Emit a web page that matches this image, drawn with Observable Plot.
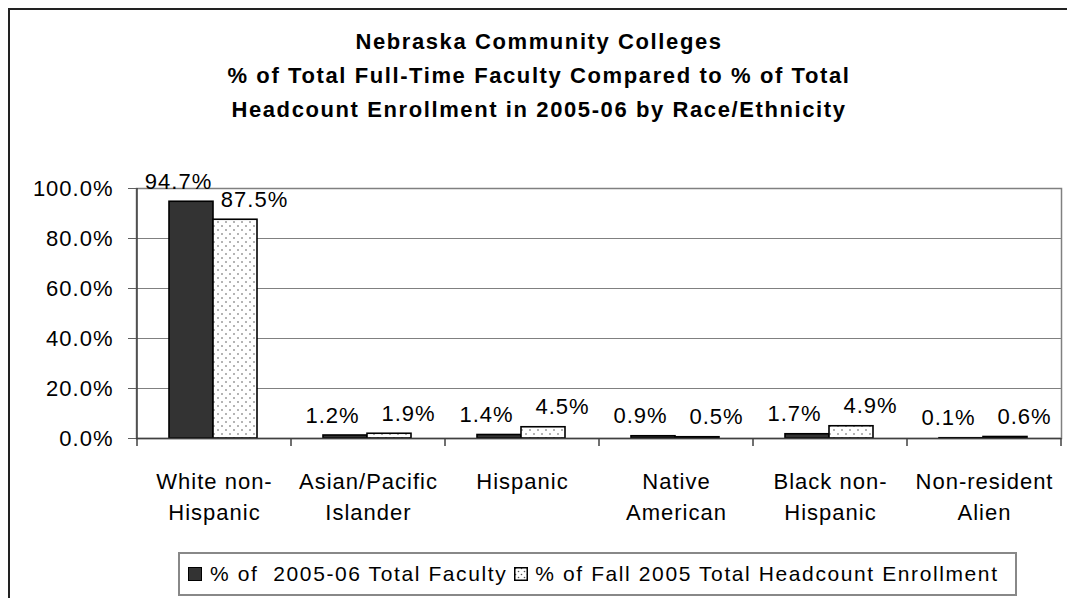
<!DOCTYPE html>
<html>
<head>
<meta charset="utf-8">
<script src="https://cdn.jsdelivr.net/npm/d3@7"></script>
<script src="https://cdn.jsdelivr.net/npm/@observablehq/plot@0.6"></script>
<style>
  html, body { margin: 0; padding: 0; background: #fff; }
  body { width: 1067px; height: 598px; overflow: hidden; position: relative; font-family: "Liberation Sans", Arial, sans-serif; }
  #border { position: absolute; left: 8px; top: 8px; width: 1100px; height: 700px; border-left: 2px solid #222; border-top: 2px solid #222; box-sizing: border-box; }
  #title { position: absolute; left: 8px; width: 1062px; top: 25px; text-align: center; font-weight: bold; font-size: 22px; line-height: 34px; letter-spacing: 1.6px; color: #000; }
  #chart { position: absolute; left: 0; top: 140px; }
  #legend { position: absolute; left: 178px; top: 552px; width: 839px; height: 44px; box-sizing: border-box; border: 2px solid #888; display: flex; align-items: center; padding-left: 8px; font-size: 21px; letter-spacing: 1.6px; color: #000; }
  #legend .sw { width: 14px; height: 14px; box-sizing: border-box; border: 1.5px solid #000; display: inline-block; }
  #legend span.t { white-space: pre; }
</style>
</head>
<body>
<div id="border"></div>
<div id="title"></div>
<div id="chart"></div>
<div id="legend"></div>
<script>
const titleLines = [
  "Nebraska Community Colleges",
  "% of Total Full-Time Faculty Compared to % of Total",
  "Headcount Enrollment in 2005-06 by Race/Ethnicity"
];
const categories = ["White non-Hispanic", "Asian/Pacific Islander", "Hispanic", "Native American", "Black non-Hispanic", "Non-resident Alien"];
const tickLabels = ["White non-\nHispanic", "Asian/Pacific\nIslander", "Hispanic", "Native\nAmerican", "Black non-\nHispanic", "Non-resident\nAlien"];
const seriesNames = ["% of  2005-06 Total Faculty", "% of Fall 2005 Total Headcount Enrollment"];
const faculty = [94.7, 1.2, 1.4, 0.9, 1.7, 0.1];
const enrollment = [87.5, 1.9, 4.5, 0.5, 4.9, 0.6];
const yTicks = [0, 20, 40, 60, 80, 100];
const gridTicks = [20, 40, 60, 80];

document.getElementById("title").innerHTML = titleLines.map(s => `<div>${s}</div>`).join("");

const rows = [];
categories.forEach((c, i) => {
  rows.push({category: c, series: seriesNames[0], value: faculty[i]});
  rows.push({category: c, series: seriesNames[1], value: enrollment[i]});
});
const s1 = rows.filter(d => d.series === seriesNames[0]);
const s2 = rows.filter(d => d.series === seriesNames[1]);

const font = "'Liberation Sans', Arial, sans-serif";

const plot = Plot.plot({
  width: 1067,
  height: 388,
  marginLeft: 136,
  marginRight: 6,
  marginTop: 48,
  marginBottom: 90,
  style: {fontFamily: font, fontSize: "22px", letterSpacing: "1px", background: "transparent", color: "#000"},
  x: {domain: categories, padding: 0, label: null},
  y: {domain: [0, 100], label: null},
  marks: [
    Plot.gridY(gridTicks, {stroke: "#808080", strokeOpacity: 1, strokeWidth: 1.2}),
    Plot.frame({stroke: "#808080", strokeWidth: 1.5}),
    Plot.barY(s1, {x: "category", y: "value", fill: "#333333", stroke: "#000", strokeWidth: 1.6, insetLeft: 32, insetRight: 78}),
    Plot.barY(s2, {x: "category", y: "value", fill: "url(#dots)", stroke: "#000", strokeWidth: 1.6, insetLeft: 76, insetRight: 34}),
    Plot.ruleY([0], {stroke: "#404040", strokeWidth: 1.5}),
    Plot.text(s1, {x: "category", y: "value", text: d => d.value.toFixed(1) + "%", dx: -36, dy: -13, lineAnchor: "bottom", fontSize: 22, fill: "#000"}),
    Plot.text(s2, {x: "category", y: "value", text: d => d.value.toFixed(1) + "%", dx: 40, dy: -13, lineAnchor: "bottom", fontSize: 22, fill: "#000"}),
    Plot.axisY({ticks: yTicks, tickFormat: d => d.toFixed(1) + "%", tickSize: 8, tickPadding: 15, stroke: "#606060", fontSize: 22, label: null}),
    Plot.axisX({tickSize: 0, tickPadding: 28, tickFormat: d => tickLabels[categories.indexOf(d)], fontSize: 22, lineHeight: 1.41, label: null})
  ]
});

const svg = d3.select(plot);
const defs = svg.insert("defs", ":first-child");
const pat = defs.append("pattern").attr("id", "dots").attr("patternUnits", "userSpaceOnUse").attr("width", 8).attr("height", 8);
pat.append("rect").attr("width", 8).attr("height", 8).attr("fill", "#fff");
pat.append("circle").attr("cx", 2).attr("cy", 2).attr("r", 0.8).attr("fill", "#555");
pat.append("circle").attr("cx", 6).attr("cy", 6).attr("r", 0.8).attr("fill", "#555");

// left axis line and category boundary ticks, from the plot's own scales
const sx = plot.scale("x");
const sy = plot.scale("y");
const y0 = sy.apply(0), y100 = sy.apply(100);
const bounds = categories.map(c => sx.apply(c)).concat([sx.apply(categories[categories.length - 1]) + sx.bandwidth]);
const g = svg.append("g").attr("stroke", "#404040").attr("stroke-width", 1.5);
g.append("line").attr("x1", bounds[0]).attr("x2", bounds[0]).attr("y1", y100).attr("y2", y0);
bounds.forEach(b => g.append("line").attr("x1", b).attr("x2", b).attr("y1", y0).attr("y2", y0 + 8));

document.getElementById("chart").appendChild(plot);

// legend
const lg = document.getElementById("legend");
lg.innerHTML = `
  <span class="sw" style="background:#333333"></span>
  <span class="t" style="margin-left:8px">${seriesNames[0]}</span>
  <svg width="14" height="14" style="margin-left:7px"><defs><pattern id="dots2" patternUnits="userSpaceOnUse" width="6" height="6"><rect width="6" height="6" fill="#fff"/><circle cx="1.5" cy="1.5" r="0.8" fill="#555"/><circle cx="4.5" cy="4.5" r="0.8" fill="#555"/></pattern></defs><rect x="0.75" y="0.75" width="12.5" height="12.5" fill="url(#dots2)" stroke="#000" stroke-width="1.5"/></svg>
  <span class="t" style="margin-left:7px">${seriesNames[1]}</span>`;
</script>
</body>
</html>
